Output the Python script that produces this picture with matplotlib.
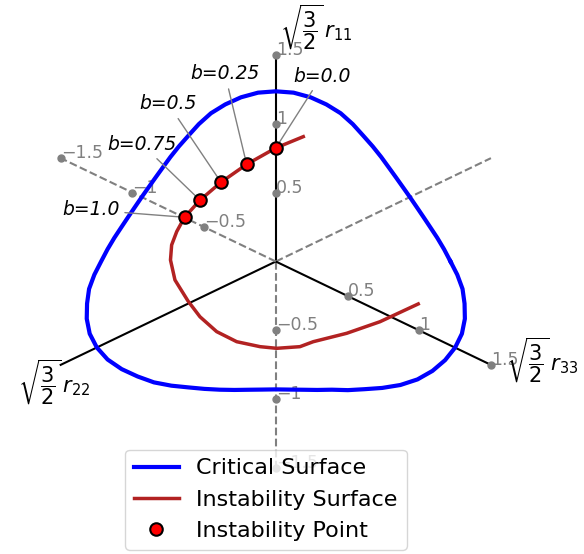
import numpy as np
import matplotlib
matplotlib.use("Agg")
import matplotlib.pyplot as plt

# Critical surface in the deviatoric plane: radius every 5 degrees (0 deg = +x)
crit_angle_deg = np.arange(0, 360, 5)
crit_radius = [
    1.055, 1.020, 0.990, 0.965, 0.948, 0.938, 0.935, 0.938, 0.948, 0.965, 0.990, 1.020,
    1.055, 1.100, 1.145, 1.180, 1.210, 1.230, 1.235, 1.230, 1.210, 1.180, 1.145, 1.100,
    1.055, 1.020, 0.990, 0.965, 0.948, 0.938, 0.935, 0.938, 0.948, 0.965, 0.990, 1.020,
    1.055, 1.100, 1.145, 1.180, 1.215, 1.240, 1.248, 1.240, 1.215, 1.180, 1.145, 1.100,
    1.055, 1.020, 0.990, 0.965, 0.945, 0.933, 0.928, 0.933, 0.945, 0.965, 0.990, 1.030,
    1.070, 1.120, 1.170, 1.210, 1.235, 1.248, 1.250, 1.240, 1.215, 1.180, 1.145, 1.100,
]

# Instability surface (plane coordinates)
inst_x = [0.166, 0.000, -0.176, -0.331, -0.458, -0.551, -0.598, -0.629, -0.636, -0.609,
          -0.530, -0.458, -0.357, -0.236, -0.095, 0.005, 0.146, 0.226, 0.428, 0.629, 0.860]
inst_y = [0.906, 0.824, 0.705, 0.575, 0.445, 0.321, 0.218, 0.120, 0.011, -0.134,
          -0.287, -0.401, -0.509, -0.582, -0.618, -0.630, -0.618, -0.582, -0.521, -0.437, -0.308]

# Instability points for each b
b_values = [0.0, 0.25, 0.5, 0.75, 1.0]
pt_x = [0.000, -0.176, -0.331, -0.458, -0.551]
pt_y = [0.824, 0.705, 0.575, 0.445, 0.321]
b_label_x = [0.277, -0.307, -0.649, -0.807, -1.118]
b_label_y = [1.346, 1.361, 1.143, 0.849, 0.374]

# Axis directions (degrees) and tick values
axis_names = ["11", "22", "33"]
axis_angle_deg = [90, 210, 330]
axis_length = 1.5
tick_values = [-1.5, -1.0, -0.5, 0.5, 1.0, 1.5]
tick_labels = ["\u22121.5", "\u22121", "\u22120.5", "0.5", "1", "1.5"]
ticked_axes = ["11", "33"]

fig = plt.figure(figsize=(5.84, 5.54), dpi=100)
ax = fig.add_axes([0, 0, 1, 1])
ax.set_xlim(-1.6655, 1.8611)
ax.set_ylim(-2.1226, 1.8977)
ax.axis("off")

for name, ang in zip(axis_names, axis_angle_deg):
    ux, uy = np.cos(np.radians(ang)), np.sin(np.radians(ang))
    ax.plot([0, axis_length * ux], [0, axis_length * uy], color="black", lw=1.5, zorder=1)
    ax.plot([0, -axis_length * ux], [0, -axis_length * uy], color="gray", lw=1.5,
            ls="--", zorder=1)
    if name in ticked_axes:
        for v, lab in zip(tick_values, tick_labels):
            ax.plot(v * ux, v * uy, "o", color="gray", ms=5, zorder=2)
            ax.text(v * ux, v * uy, lab, color="gray", fontsize=12.5, zorder=2)

label_fs = 15
ax.text(0.025, 1.876, r"$\sqrt{\dfrac{3}{2}}\,r_{11}$", fontsize=label_fs, ha="left", va="top")
ax.text(1.39, -0.714, r"$\sqrt{\dfrac{3}{2}}\,r_{33}$", fontsize=label_fs, ha="left", va="center")
ax.text(-1.122, -0.70, r"$\sqrt{\dfrac{3}{2}}\,r_{22}$", fontsize=label_fs, ha="right", va="top")

th = np.radians(np.append(crit_angle_deg, crit_angle_deg[0]))
rr = np.append(crit_radius, crit_radius[0])
ax.plot(rr * np.cos(th), rr * np.sin(th), color="blue", lw=3, zorder=3,
        label="Critical Surface")
ax.plot(inst_x, inst_y, color="firebrick", lw=2.5, zorder=4, label="Instability Surface")
ax.plot(pt_x, pt_y, "o", color="red", mec="black", mew=1.5, ms=9, ls="none", zorder=5,
        label="Instability Point")

for b, x, y, tx, ty in zip(b_values, pt_x, pt_y, b_label_x, b_label_y):
    ax.annotate(f"b={b}", xy=(x, y), xytext=(tx, ty), fontsize=13.5, style="italic",
                ha="center", va="center",
                arrowprops=dict(arrowstyle="-", color="gray", lw=1))

ax.legend(loc="lower center", bbox_to_anchor=(266 / 584, 0.0), borderaxespad=0.2,
          fontsize=16)

fig.savefig("out.png", dpi=100)
